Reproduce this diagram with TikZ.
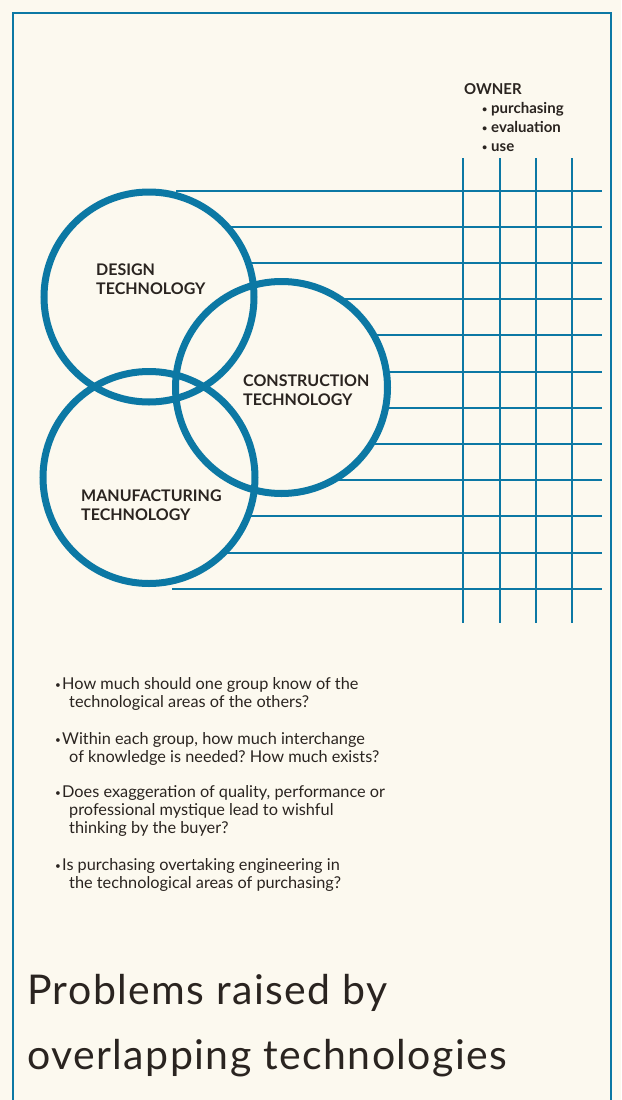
\documentclass[tikz,border=0pt]{standalone}
\usepackage{fontspec}
\setmainfont{Lato}
\newfontfamily\titlefont[LetterSpace=3.5]{Lato}
\usepackage{xcolor}
\usetikzlibrary{positioning}
\definecolor{techblue}{RGB}{12,120,164}
\definecolor{paper}{RGB}{252,249,239}
\definecolor{ink}{RGB}{42,36,32}
\newcommand{\qbul}{\makebox[7pt][l]{\raisebox{1pt}{\fontsize{10}{10}\selectfont\textbullet}}}
\newcommand{\qind}{\hspace*{14pt}}
\newcommand{\obul}{\makebox[9pt][l]{\raisebox{1pt}{\fontsize{9}{9}\selectfont\textbullet}}}
\frenchspacing

\begin{document}
\begin{tikzpicture}[x=1pt, y=-1pt,
    ring/.style={draw=techblue, line width=7pt},
    rule/.style={draw=techblue, line width=2pt},
    frame/.style={draw=techblue, line width=2.6pt},
    area/.style={anchor=base west, inner sep=0pt, align=left, text=ink, font=\fontsize{16}{19}\selectfont\bfseries},
    owner/.style={anchor=base west, inner sep=0pt, text=ink, font=\fontsize{15}{19}\selectfont\bfseries},
    query/.style={anchor=base west, inner sep=0pt, align=left, text=ink, font=\fontsize{16.3}{18}\selectfont},
    title/.style={anchor=base west, inner sep=0pt, text=ink, font=\titlefont\fontsize{41}{46}\selectfont},
]
% Paper and frame
\fill[paper] (0,0) rectangle (621,1100);
\useasboundingbox (0,0) rectangle (621,1100);
\draw[frame] (13,1102) -- (13,13) -- (611,13) -- (611,1102);

% Owner grid (vertical)
\draw[rule] (463,158) -- (463,623);
\draw[rule] (500,158) -- (500,623);
\draw[rule] (536,158) -- (536,623);
\draw[rule] (572,158) -- (572,623);

% Links out of the circles
\draw[rule] (176,190.5) -- (602,190.5);
\draw[rule] (228,226.7) -- (602,226.7);
\draw[rule] (249,262.9) -- (602,262.9);
\draw[rule] (340,299.1) -- (602,299.1);
\draw[rule] (374,335.3) -- (602,335.3);
\draw[rule] (386,371.5) -- (602,371.5);
\draw[rule] (385,407.7) -- (602,407.7);
\draw[rule] (370,443.9) -- (602,443.9);
\draw[rule] (331,480.1) -- (602,480.1);
\draw[rule] (247,516.3) -- (602,516.3);
\draw[rule] (224,552.5) -- (602,552.5);
\draw[rule] (172,588.7) -- (602,588.7);

% Technology circles
\coordinate (design) at (149,297);
\coordinate (construction) at (281.5,387.5);
\coordinate (manufacturing) at (149,477.5);
\draw[ring] (design) circle[radius=105pt];
\draw[ring] (construction) circle[radius=106pt];
\draw[ring] (manufacturing) circle[radius=106pt];

% (base anchor sits on the last line)
\node[area] (designtxt) at (96,294) {DESIGN\\TECHNOLOGY};
\node[area] (constrtxt) at (243,405) {CONSTRUCTION\\TECHNOLOGY};
\node[area] (manutxt) at (81,520) {MANUFACTURING\\TECHNOLOGY};

% Owner
\node[owner] (owner) at (464,94) {OWNER};
\node[owner] (purch) at (482,113) {\obul purchasing};
\node[owner] (evalu) at (482,132.5) {\obul evaluation};
\node[owner] (use) at (482,151) {\obul use};

% Questions
\node[query] (q1) at (55,707) {\qbul How much should one group know of the\\\qind technological areas of the others?};
\node[query] (q2) at (55,762) {\qbul Within each group, how much interchange\\\qind of knowledge is needed? How much exists?};
\node[query] (q3) at (55,833) {\qbul Does exaggeration of quality, performance or\\\qind professional mystique lead to wishful\\\qind thinking by the buyer?};
\node[query] (q4) at (55,888) {\qbul Is purchasing overtaking engineering in\\\qind the technological areas of purchasing?};

% Title
\node[title] (title1) at (27,1004) {Problems raised by};
\node[title] (title2) at (27,1069) {overlapping technologies};
\end{tikzpicture}
\end{document}
